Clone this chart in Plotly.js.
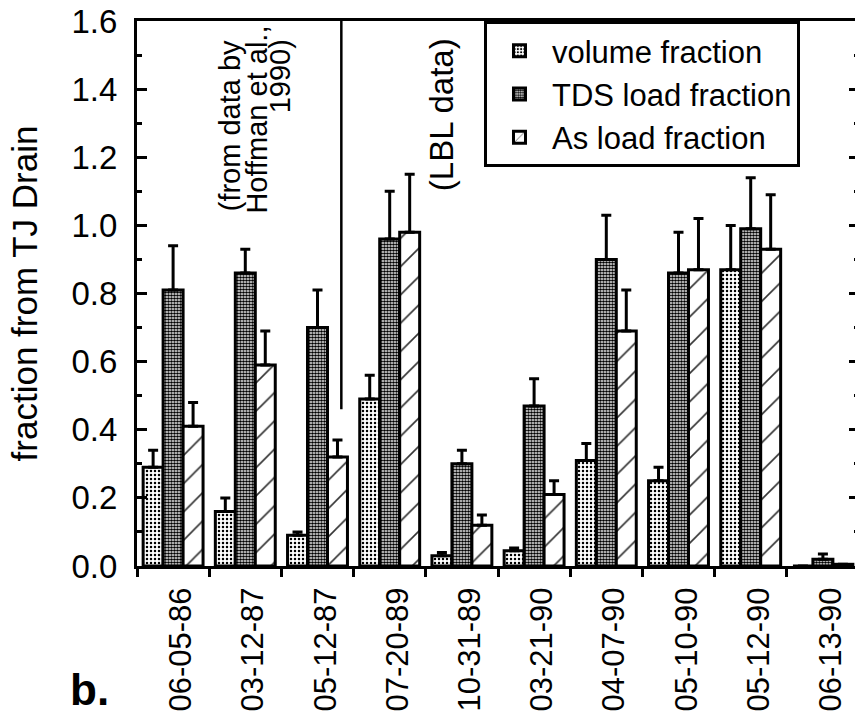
<!DOCTYPE html>
<html>
<head>
<meta charset="utf-8">
<script src="https://cdn.plot.ly/plotly-3.0.1.min.js"></script>
<style>
  html, body { margin: 0; padding: 0; background: #fff; overflow: hidden; }
  #chart { width: 862px; height: 719px; }
</style>
</head>
<body>
<div id="chart"></div>
<script>
// Sampling dates
const categories = ['06-05-86', '03-12-87', '05-12-87', '07-20-89', '10-31-89',
                    '03-21-90', '04-07-90', '05-10-90', '05-12-90', '06-13-90'];

// Fractions contributed by the TJ Drain, with upper error amounts
const volumeFraction = [0.29, 0.16, 0.09, 0.49, 0.03, 0.045, 0.31, 0.25, 0.87, 0];
const volumeErr      = [0.05, 0.04, 0.01, 0.07, 0.01, 0.008, 0.05, 0.04, 0.13, 0];
const tdsFraction    = [0.81, 0.86, 0.70, 0.96, 0.30, 0.47, 0.90, 0.86, 0.99, 0.02];
const tdsErr         = [0.13, 0.07, 0.11, 0.14, 0.04, 0.08, 0.13, 0.12, 0.15, 0.015];
const asFraction     = [0.41, 0.59, 0.32, 0.98, 0.12, 0.21, 0.69, 0.87, 0.93, 0.005];
const asErr          = [0.07, 0.10, 0.05, 0.17, 0.03, 0.04, 0.12, 0.15, 0.16, 0];

const seriesNames = ['volume fraction', 'TDS load fraction', 'As load fraction'];

const FONT = 'Liberation Sans, Arial, Helvetica, sans-serif';

function upperError(err) {
  return {
    type: 'data', symmetric: false,
    array: err, arrayminus: err.map(() => 0),
    color: '#000', thickness: 3, width: 5
  };
}

const outline = { color: '#000', width: 3 };

const traces = [
  {
    type: 'bar', name: seriesNames[0], x: categories, y: volumeFraction,
    marker: { color: '#fff', line: outline,
      pattern: { shape: '.', fgcolor: '#000', bgcolor: '#fff', size: 4, solidity: 0.3 } },
    error_y: upperError(volumeErr)
  },
  {
    type: 'bar', name: seriesNames[1], x: categories, y: tdsFraction,
    marker: { color: '#fff', line: outline,
      pattern: { shape: '.', fgcolor: '#000', bgcolor: '#fff', size: 3, solidity: 0.65 } },
    error_y: upperError(tdsErr)
  },
  {
    type: 'bar', name: seriesNames[2], x: categories, y: asFraction,
    marker: { color: '#fff', line: outline,
      pattern: { shape: '/', fgcolor: '#333', bgcolor: '#fff', size: 20, solidity: 0.08 } },
    error_y: upperError(asErr)
  }
];

// Notes on data sources, rotated like the tick labels
function note(text, x, y, size) {
  return {
    text: text, xref: 'paper', yref: 'paper', x: x, y: y,
    xanchor: 'center', yanchor: 'top', textangle: -90, showarrow: false,
    font: { family: FONT, size: size, color: '#000' }
  };
}

const layout = {
  width: 862, height: 719,
  margin: { l: 137, r: 3, t: 21, b: 153, pad: 0 },
  paper_bgcolor: '#fff', plot_bgcolor: '#fff',
  font: { family: FONT, color: '#000' },
  barmode: 'group', bargap: 0.17, bargroupgap: 0,
  showlegend: true,
  legend: {
    x: 0.4806, y: 1, xanchor: 'left', yanchor: 'top',
    bgcolor: '#fff', bordercolor: '#000', borderwidth: 3,
    font: { family: FONT, size: 31, color: '#000' },
    itemwidth: 55, traceorder: 'normal'
  },
  xaxis: {
    type: 'category', tickson: 'boundaries',
    showline: true, linecolor: '#000', linewidth: 3, mirror: true,
    ticks: 'outside', ticklen: 8, tickwidth: 3, tickcolor: '#000',
    tickangle: -90, ticklabelstandoff: 6, ticklabelshift: 8,
    tickfont: { family: FONT, size: 31, color: '#000' },
    showgrid: false, zeroline: false, fixedrange: true
  },
  yaxis: {
    range: [0, 1.6], dtick: 0.2, tickformat: '.1f',
    showline: true, linecolor: '#000', linewidth: 3, mirror: 'ticks',
    ticks: 'inside', ticklen: 10, tickwidth: 3, tickcolor: '#000',
    minor: { dtick: 0.1, ticks: 'inside', ticklen: 5, tickwidth: 3, tickcolor: '#000' },
    ticklabelstandoff: 10,
    tickfont: { family: FONT, size: 33, color: '#000' },
    title: { text: 'fraction from TJ Drain', standoff: 24,
             font: { family: FONT, size: 35, color: '#000' } },
    showgrid: false, zeroline: false, fixedrange: true
  },
  shapes: [
    { type: 'line', xref: 'x', yref: 'y', x0: 2.33, x1: 2.33, y0: 0.46, y1: 1.6,
      line: { color: '#000', width: 2.5 } }
  ],
  annotations: [
    note('(from data by', 0.1300, 0.969, 29),
    note('Hoffman et al.,', 0.1660, 0.995, 29),
    note('1990)', 0.1980, 0.970, 29),
    note('(LBL data)', 0.4210, 0.973, 33),
    { text: '<b>b.</b>', xref: 'paper', yref: 'paper', x: -0.095, y: -0.2275,
      xanchor: 'left', yanchor: 'middle', showarrow: false,
      font: { family: FONT, size: 44, color: '#000' } }
  ]
};

Plotly.newPlot('chart', traces, layout, { displayModeBar: false, staticPlot: true });
</script>
</body>
</html>
